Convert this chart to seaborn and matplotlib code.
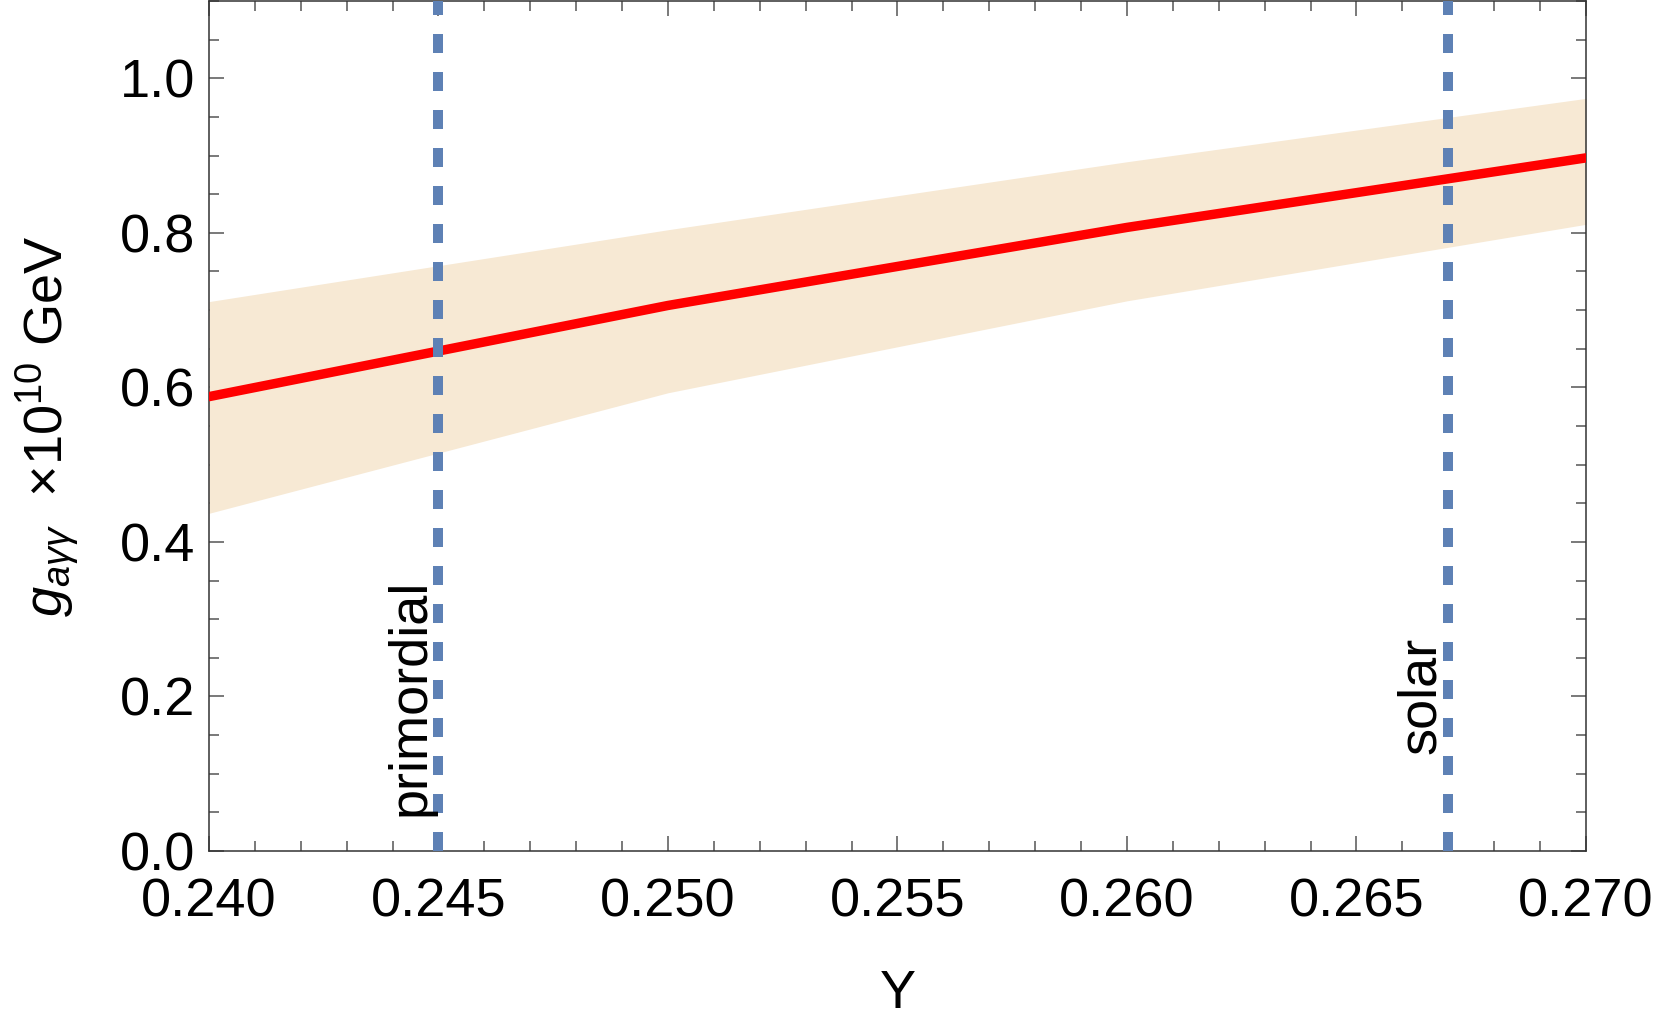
"""Axion-photon coupling vs helium abundance Y, with uncertainty band."""
import matplotlib
matplotlib.use("Agg")
import matplotlib.pyplot as plt
from matplotlib.ticker import MultipleLocator
import pandas as pd
import seaborn as sns

# values
Y_GRID = [0.240, 0.250, 0.260, 0.270]
G_CENTRAL = [0.588, 0.706, 0.807, 0.897]
G_UPPER = [0.711, 0.804, 0.892, 0.974]
G_LOWER = [0.437, 0.593, 0.712, 0.811]
Y_MARKERS = [0.245, 0.267]
MARKER_LABELS = ["primordial", "solar"]
LABEL_X = [0.2444, 0.2664]
LABEL_Y = [0.045, 0.125]

BAND_COLOR = "#F7E9D4"
LINE_COLOR = "#FF0000"
DASH_COLOR = "#5E81B5"
FS = 39

sns.set_theme(style="ticks")
plt.rcParams["font.family"] = ["Liberation Sans", "DejaVu Sans"]
plt.rcParams["mathtext.fontset"] = "custom"
plt.rcParams["mathtext.rm"] = "Liberation Sans"
plt.rcParams["mathtext.it"] = "Liberation Sans:italic"
plt.rcParams["text.color"] = "black"
plt.rcParams["axes.labelcolor"] = "black"
plt.rcParams["xtick.labelcolor"] = "black"
plt.rcParams["ytick.labelcolor"] = "black"

df = pd.DataFrame({"Y": Y_GRID, "g": G_CENTRAL, "lo": G_LOWER, "hi": G_UPPER})

fig = plt.figure(figsize=(16.61, 10.28), dpi=100)
ax = fig.add_axes([0.1258, 0.1722, 0.829, 0.8268])

ax.fill_between(df["Y"], df["lo"], df["hi"], color=BAND_COLOR, lw=0, zorder=1)
sns.lineplot(data=df, x="Y", y="g", color=LINE_COLOR, lw=6.8, ax=ax, zorder=3)
for xm in Y_MARKERS:
    ax.axvline(xm, color=DASH_COLOR, lw=7.2, dashes=(1.9, 1.9), zorder=4)
for txt, tx, ty in zip(MARKER_LABELS, LABEL_X, LABEL_Y):
    ax.text(tx, ty, txt, rotation=90, ha="center", va="bottom", fontsize=FS, zorder=5)

ax.set_xlim(0.240, 0.270)
ax.set_ylim(0.0, 1.1)
ax.xaxis.set_major_locator(MultipleLocator(0.005))
ax.xaxis.set_minor_locator(MultipleLocator(0.001))
ax.yaxis.set_major_locator(MultipleLocator(0.2))
ax.yaxis.set_minor_locator(MultipleLocator(0.05))
ax.xaxis.set_major_formatter(plt.FormatStrFormatter("%.3f"))
ax.yaxis.set_major_formatter(plt.FormatStrFormatter("%.1f"))

ax.tick_params(which="both", direction="in", top=True, right=True, color="#555555", width=1.1)
ax.tick_params(which="major", length=11, labelsize=FS)
ax.tick_params(which="minor", length=7)
ax.tick_params(axis="x", pad=19)
ax.tick_params(axis="y", pad=10)
for sp in ax.spines.values():
    sp.set_linewidth(1.1)
    sp.set_color("#333333")

ax.set_xlabel("Y", fontsize=FS, labelpad=30)
ax.set_ylabel(r"$g_{a\gamma\gamma}$  $\times10^{10}$ GeV", fontsize=FS, labelpad=27)

fig.savefig("out.png", dpi=100)
